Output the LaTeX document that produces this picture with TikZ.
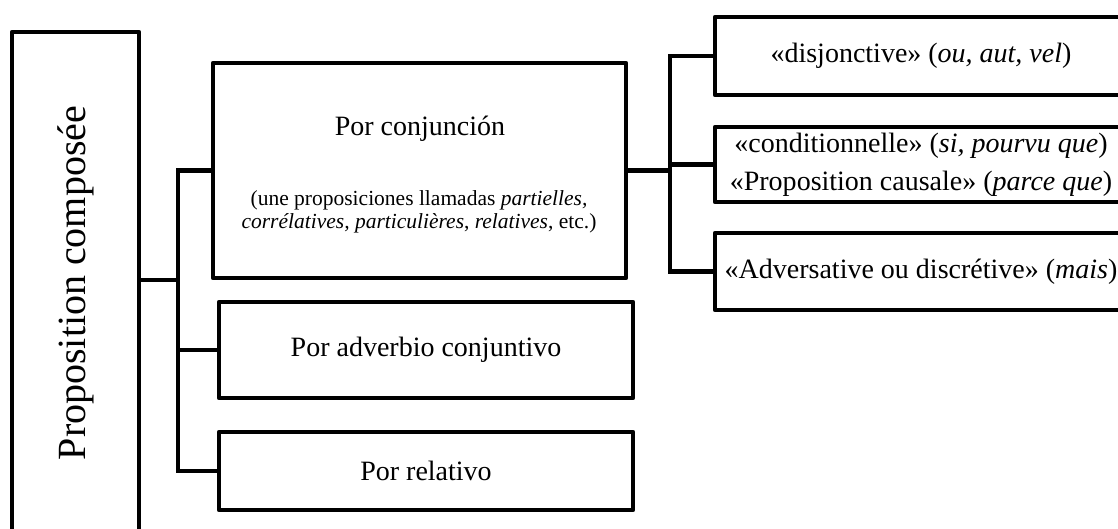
\documentclass[tikz,border=0pt]{standalone}
\usepackage{fontspec}
\setmainfont{Liberation Serif}
\begin{document}
\tikzset{
  box/.style={draw, line width=4.5pt, line join=round, inner sep=2pt, align=center,
    font=\fontsize{28}{38}\selectfont},
  conn/.style={line width=4.5pt},
  plain/.style={inner sep=0pt, align=center},
}
\begin{tikzpicture}[x=1pt,y=-1pt]
\useasboundingbox (0,0) rectangle (1118,528);
\clip (0,0) rectangle (1118,528);
% main box
\node[box, minimum width=127pt, minimum height=502pt] (main) at (75.5,283)
  {\rotatebox{90}{\fontsize{40}{48}\selectfont Proposition composée}};
% middle column
\node[box, minimum width=413pt, minimum height=215pt] (conj) at (419.5,170.5) {};
\node[plain, font=\fontsize{28}{34}\selectfont] (conjT) at (420,129) {Por conjunción};
\node[plain, font=\fontsize{21.5}{23}\selectfont] (conjS) at (419,211.5)
  {(une proposiciones llamadas \textit{partielles,}\\
   \textit{corrélatives, particulières}, \textit{relatives}, etc.)};
\node[box, minimum width=414pt, minimum height=96pt] (adv) at (426,350) {Por adverbio conjuntivo};
\node[box, minimum width=414pt, minimum height=78pt] (rel) at (426,471) {Por relativo};
% right column
\node[box, minimum width=412pt, minimum height=78pt] (d1) at (921,56)
  {«disjonctive» (\textit{ou, aut, vel})};
\node[box, minimum width=412pt, minimum height=75pt] (d2) at (921,164.5)
  {«conditionnelle» (\textit{si, pourvu que})\\«Proposition causale» (\textit{parce que})};
\node[box, minimum width=412pt, minimum height=77pt] (d3) at (921,271.5)
  {«Adversative ou discrétive» (\textit{mais})};
% connectors
\coordinate (j) at (178,280);
\coordinate (k) at (670,170.5);
\draw[conn] (main.east |- j) -- (j);
\draw[conn] (j) |- (conj.west);
\draw[conn] (j) |- (adv.west);
\draw[conn] (j) |- (rel.west);
\draw[conn] (conj.east) -- (k);
\draw[conn] (k) |- (d1.west);
\draw[conn] (k) |- (d2.west);
\draw[conn] (k) |- (d3.west);
\end{tikzpicture}
\end{document}
